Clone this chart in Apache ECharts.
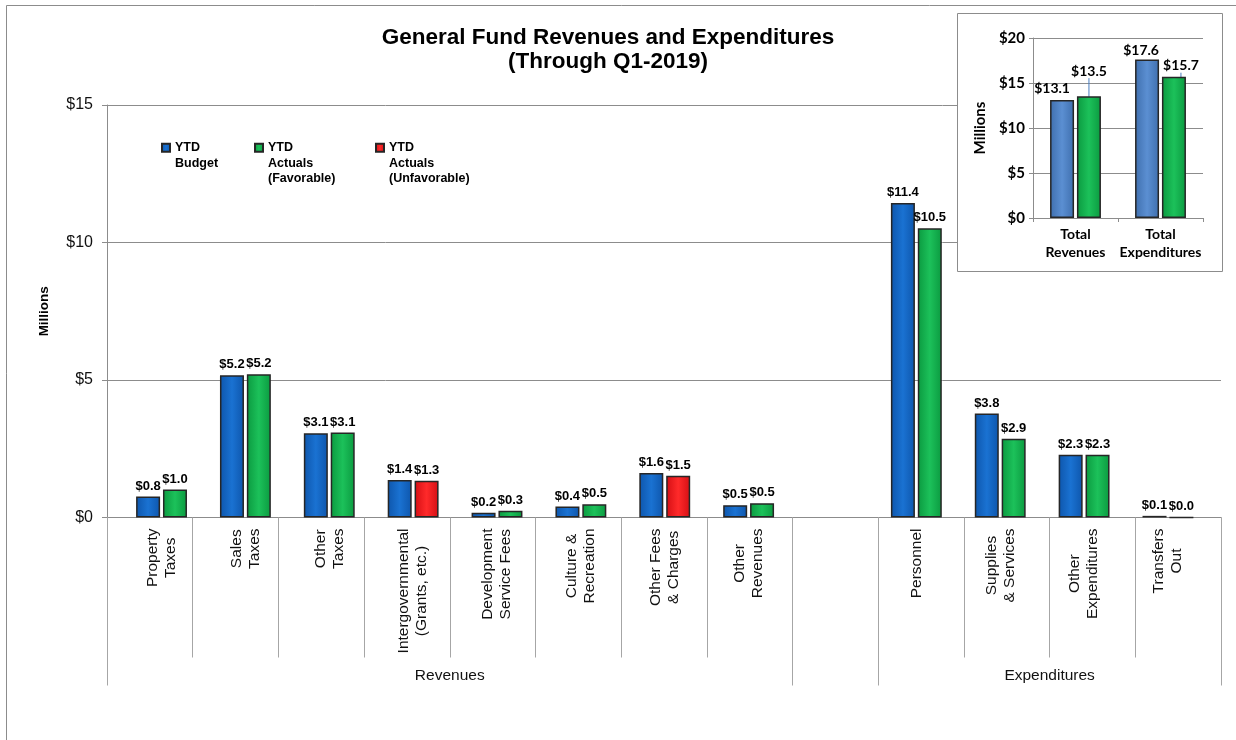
<!DOCTYPE html>
<html>
<head>
<meta charset="utf-8">
<script src="https://cdn.jsdelivr.net/npm/echarts@6/dist/echarts.min.js"></script>
<style>
  html, body { margin: 0; padding: 0; background: #fff; }
  #chart { width: 1236px; height: 740px; }
</style>
</head>
<body>
<div id="chart"></div>
<script>
// ---- data (millions of dollars) ----
const categories = [
  'Property\nTaxes', 'Sales\nTaxes', 'Other\nTaxes', 'Intergovernmental\n(Grants, etc.)',
  'Development\nService Fees', 'Culture &\nRecreation', 'Other Fees\n& Charges', 'Other\nRevenues',
  '', 'Personnel', 'Supplies\n& Services', 'Other\nExpenditures', 'Transfers\nOut'
];
const budget            = [0.76, 5.17, 3.06, 1.36, 0.17, 0.40, 1.62, 0.45, null, 11.44, 3.78, 2.28, 0.06];
const actualFavorable   = [1.02, 5.21, 3.09, null, 0.25, 0.48, null, 0.52, null, 10.52, 2.86, 2.28, 0.0];
const actualUnfavorable = [null, null, null, 1.34, null, null, 1.52, null, null, null, null, null, null];

const seriesNames = ['YTD\nBudget', 'YTD\nActuals\n(Favorable)', 'YTD\nActuals\n(Unfavorable)'];

const groupNames = ['Revenues', 'Expenditures'];
const groupSpans = [[0, 8], [9, 13]];

const yMax = 15, yStep = 5;

const totalCategories = ['Total\nRevenues', 'Total\nExpenditures'];
const totalBudget = [13.12, 17.6];
const totalActual = [13.54, 15.7];
const insetMax = 20, insetStep = 5;

// ---- styling ----
const SANS = "'Liberation Sans', Arial, sans-serif";
const INSET_FONT = "Lato, 'Open Sans', sans-serif";
const GRID_GRAY = '#8c8c8c';
const TICK_GRAY = '#a6a6a6';

function bevel(edge, mid) {
  return new echarts.graphic.LinearGradient(0, 0, 1, 0, [
    { offset: 0, color: edge },
    { offset: 0.5, color: mid },
    { offset: 1, color: edge }
  ]);
}

const money = p => (p.value == null ? '' : '$' + Number(p.value).toFixed(1));

const groupBounds = [];
groupSpans.forEach(s => s.forEach(v => { if (groupBounds.indexOf(v) < 0) groupBounds.push(v); }));
const groupCenters = groupSpans.map(s => (s[0] + s[1]) / 2);

// inset label nudges (dx, dy) per data item
const insetBudgetShift = [[-10, 0], [-6, 2]];
const insetActualShift = [[0, -14], [7, 0]];

const mainLabel = {
  show: true, position: 'top', distance: 4, formatter: money,
  fontFamily: SANS, fontWeight: 'bold', fontSize: 13, color: '#000'
};
const insetLabel = {
  show: true, position: 'top', distance: 4, formatter: money,
  fontFamily: INSET_FONT, fontWeight: 'bold', fontSize: 14, color: '#000'
};

const legendText = {
  fontFamily: SANS, fontWeight: 'bold', fontSize: 12.5, color: '#000', lineHeight: 15.5
};
// keep the first text line level with the swatch
const legendFormatter = name => '\n'.repeat(name.split('\n').length - 1) + name;

function legendAt(name, left, top) {
  return {
    data: [name], left: left, top: top, padding: 0,
    itemWidth: 8, itemHeight: 8, icon: 'rect', selectedMode: false,
    textStyle: legendText, formatter: legendFormatter
  };
}

const chart = echarts.init(document.getElementById('chart'), null, { renderer: 'canvas' });

chart.setOption({
  animation: false,
  backgroundColor: '#fff',
  title: {
    text: 'General Fund Revenues and Expenditures\n(Through Q1-2019)',
    left: 603, top: 21, textAlign: 'center',
    textStyle: { fontFamily: SANS, fontWeight: 'bold', fontSize: 22.5, lineHeight: 24, color: '#000' }
  },
  legend: [
    legendAt(seriesNames[0], 161, 124.5),
    legendAt(seriesNames[1], 254, 109),
    legendAt(seriesNames[2], 375, 109)
  ],
  graphic: [
    { type: 'rect', z: 0, silent: true,
      shape: { x: 6.5, y: 5.5, width: 1240, height: 745 },
      style: { fill: null, stroke: GRID_GRAY, lineWidth: 1 } },
    { type: 'rect', z: 1, silent: true,
      shape: { x: 957.5, y: 13.5, width: 265, height: 258 },
      style: { fill: '#fff', stroke: GRID_GRAY, lineWidth: 1 } }
  ],
  grid: [
    // 0: frame, gridlines, category separators
    { left: 107, right: 15, top: 105, bottom: 222.5 },
    // 1: bars and their labels
    { left: 119.6, right: 26.1, top: 105, bottom: 222.5 },
    // 2: totals inset
    { left: 1033, right: 33, top: 38, bottom: 522 },
    // 3: group separators and names
    { left: 107, right: 15, top: 105, bottom: 222.5 }
  ],
  xAxis: [
    {
      gridIndex: 0, type: 'category', data: categories,
      axisLine: { show: true, lineStyle: { color: GRID_GRAY } },
      axisTick: { show: true, interval: 0, length: 140, lineStyle: { color: TICK_GRAY } },
      axisLabel: { show: false }, splitLine: { show: false }
    },
    {
      gridIndex: 1, type: 'category', data: categories,
      axisLine: { show: false }, axisTick: { show: false },
      axisLabel: {
        interval: 0, rotate: 90, margin: 11,
        formatter: v => (v ? v.split('\n').map(s => '{c|' + s + '}').join('\n') : ''),
        rich: { c: { align: 'center', fontFamily: SANS, fontSize: 15.5, lineHeight: 18, color: '#111' } }
      }
    },
    {
      gridIndex: 2, type: 'category', data: totalCategories, z: 5,
      axisLine: { show: true, lineStyle: { color: GRID_GRAY } },
      axisTick: { show: true, interval: 0, length: 4, lineStyle: { color: GRID_GRAY } },
      axisLabel: { interval: 0, margin: 7, fontFamily: INSET_FONT, fontWeight: 'bold', fontSize: 14, lineHeight: 18, color: '#000' }
    },
    {
      gridIndex: 3, type: 'value', min: 0, max: categories.length,
      axisLine: { show: false }, splitLine: { show: false },
      axisTick: { show: true, customValues: groupBounds, length: 168, lineStyle: { color: TICK_GRAY } },
      axisLabel: {
        customValues: groupCenters, margin: 150,
        formatter: v => groupNames[groupCenters.indexOf(v)] || '',
        fontFamily: SANS, fontSize: 15.5, color: '#111'
      }
    }
  ],
  yAxis: [
    {
      gridIndex: 0, type: 'value', min: 0, max: yMax, interval: yStep,
      name: 'Millions', nameLocation: 'middle', nameGap: 56, nameRotate: 90,
      nameTextStyle: { fontFamily: SANS, fontWeight: 'bold', fontSize: 13.5, color: '#000' },
      axisLine: { show: true, lineStyle: { color: GRID_GRAY } },
      axisTick: { show: true, length: 5, lineStyle: { color: GRID_GRAY } },
      axisLabel: { formatter: v => '$' + v, margin: 14, fontFamily: SANS, fontSize: 16, color: '#111' },
      splitLine: { show: true, lineStyle: { color: GRID_GRAY, width: 1 } }
    },
    { gridIndex: 1, type: 'value', min: 0, max: yMax, show: false },
    {
      gridIndex: 2, type: 'value', min: 0, max: insetMax, interval: insetStep, z: 5,
      name: 'Millions', nameLocation: 'middle', nameGap: 45, nameRotate: 90,
      nameTextStyle: { fontFamily: INSET_FONT, fontWeight: 'bold', fontSize: 15, color: '#000' },
      axisLine: { show: true, lineStyle: { color: GRID_GRAY } },
      axisTick: { show: true, length: 4, lineStyle: { color: GRID_GRAY } },
      axisLabel: { formatter: v => '$' + v, margin: 8, fontFamily: INSET_FONT, fontWeight: 'bold', fontSize: 15, color: '#000' },
      splitLine: { show: true, lineStyle: { color: GRID_GRAY, width: 1 } }
    },
    { gridIndex: 3, type: 'value', min: 0, max: yMax, show: false }
  ],
  series: [
    {
      name: seriesNames[0], type: 'bar', xAxisIndex: 1, yAxisIndex: 1,
      data: budget, barWidth: 24, barGap: '12%',
      itemStyle: { color: bevel('#0e56ac', '#1a72d2'), borderColor: '#262626', borderWidth: 1.5 },
      label: mainLabel
    },
    {
      name: seriesNames[1], type: 'bar', xAxisIndex: 1, yAxisIndex: 1, stack: 'actual',
      data: actualFavorable, barWidth: 24, barGap: '12%',
      itemStyle: { color: bevel('#0b9a40', '#1cc15a'), borderColor: '#262626', borderWidth: 1.5 },
      label: mainLabel
    },
    {
      name: seriesNames[2], type: 'bar', xAxisIndex: 1, yAxisIndex: 1, stack: 'actual',
      data: actualUnfavorable, barWidth: 24, barGap: '12%',
      itemStyle: { color: bevel('#d40f14', '#ff2a2a'), borderColor: '#262626', borderWidth: 1.5 },
      label: mainLabel
    },
    {
      name: 'Total Budget', type: 'bar', xAxisIndex: 2, yAxisIndex: 2, z: 6,
      data: totalBudget, barWidth: 24, barGap: '12%',
      itemStyle: { color: bevel('#3f6fae', '#5b8fd2'), borderColor: '#262626', borderWidth: 1.5 },
      label: insetLabel,
      labelLayout: p => ({ dx: insetBudgetShift[p.dataIndex][0], dy: insetBudgetShift[p.dataIndex][1] })
    },
    {
      name: 'Total Actuals', type: 'bar', xAxisIndex: 2, yAxisIndex: 2, z: 6,
      data: totalActual, barWidth: 24, barGap: '12%',
      itemStyle: { color: bevel('#0b9a40', '#1cc15a'), borderColor: '#262626', borderWidth: 1.5 },
      label: insetLabel,
      labelLine: { show: true, lineStyle: { color: '#4a7ebf', width: 1 } },
      labelLayout: p => ({ dx: insetActualShift[p.dataIndex][0], dy: insetActualShift[p.dataIndex][1] })
    }
  ]
});
</script>
</body>
</html>
